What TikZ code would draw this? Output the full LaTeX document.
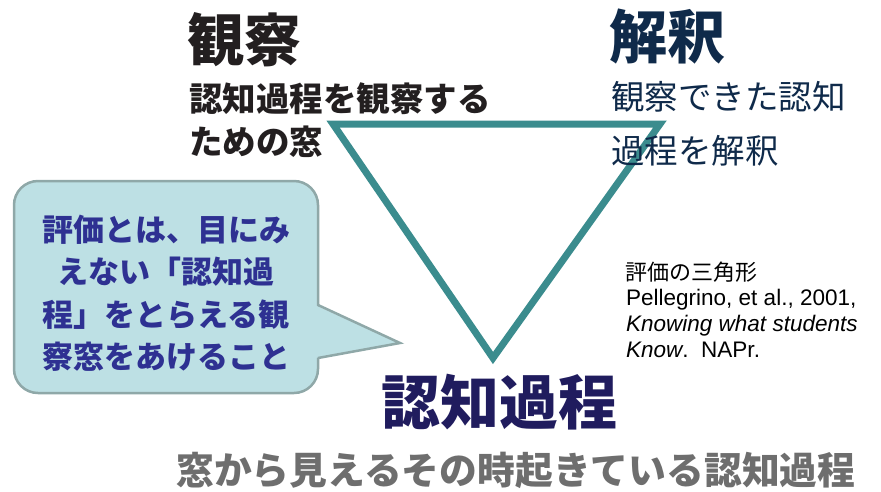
\documentclass[tikz,border=0pt]{standalone}
\usepackage{fontspec}
\setmainfont{Liberation Sans}
\newfontfamily\jp{Noto Sans CJK JP}
\definecolor{tealline}{RGB}{59,140,142}
\definecolor{bubblefill}{RGB}{189,224,228}
\definecolor{bubbleedge}{RGB}{143,168,168}
\definecolor{bubbletext}{RGB}{46,49,146}
\definecolor{obscol}{RGB}{35,31,32}
\definecolor{intcol}{RGB}{15,42,74}
\definecolor{cogcol}{RGB}{32,28,94}
\definecolor{graytext}{RGB}{110,110,110}
\tikzset{
  jtxt/.style={inner sep=0pt, anchor=west, font=\jp\bfseries},
  reftxt/.style={inner sep=0pt, anchor=base west, font=\fontsize{22.5}{26}\selectfont},
  tri/.style={draw=tealline, line width=7pt, line join=miter},
  bubble/.style={fill=bubblefill, draw=bubbleedge, line width=2.5pt}
}
\begin{document}
\begin{tikzpicture}[x=1pt,y=-1pt]
\useasboundingbox (0,0) rectangle (881,491);
% triangle
\coordinate (tl) at (333,124);
\coordinate (tr) at (660,124);
\coordinate (bt) at (493,358);
\draw[tri] (tl) -- (tr) -- (bt) -- cycle;
% speech bubble
\draw[bubble, rounded corners=24] (14,181) rectangle (318,393);
\coordinate (tailA) at (318,305);
\coordinate (tailB) at (318,358);
\coordinate (tip) at (400,343);
\fill[bubblefill] ([xshift=-3pt]tailA) -- (tip) -- ([xshift=-3pt]tailB) -- cycle;
\draw[bubbleedge, line width=2.5pt, line join=miter] (tailA) -- (tip) -- (tailB);
\node[inner sep=0pt, align=center, text=bubbletext, font=\jp\bfseries\fontsize{31}{42.5}\selectfont] (bt1) at (166,293)
 {評価とは、目にみ\\えない「認知過\\程」をとらえる観\\察窓をあけること};
% top-left: observation
\node[jtxt, text=obscol, font=\jp\bfseries\fontsize{57}{64}\selectfont] (obs) at (187,40) {観察};
\node[jtxt, text=obscol, font=\jp\bfseries\fontsize{33.5}{40}\selectfont] (obs1) at (189,99) {認知過程を観察する};
\node[jtxt, text=obscol, font=\jp\bfseries\fontsize{33.5}{40}\selectfont] (obs2) at (189,142) {ための窓};
% top-right: interpretation
\node[jtxt, text=intcol, font=\jp\bfseries\fontsize{58}{64}\selectfont] (int) at (609,37) {解釈};
\node[jtxt, text=intcol, font=\jp\fontsize{33.5}{40}\selectfont] (int1) at (611,97) {観察できた認知};
\node[jtxt, text=intcol, font=\jp\fontsize{33.5}{40}\selectfont] (int2) at (611,151) {過程を解釈};
% bottom: cognition
\node[jtxt, text=cogcol, font=\jp\bfseries\fontsize{59}{66}\selectfont] (cog) at (381,402) {認知過程};
\node[jtxt, text=graytext, font=\jp\bfseries\fontsize{37.8}{44}\selectfont] (cog1) at (176,470) {窓から見えるその時起きている認知過程};
% reference
\node[reftxt, font=\jp\fontsize{22}{26}\selectfont] (r0) at (625,280) {評価の三角形};
\node[reftxt] (r1) at (626,305) {Pellegrino, et al., 2001,};
\node[reftxt] (r2) at (626,331) {\itshape Knowing what students};
\node[reftxt] (r3) at (626,357) {\itshape Know\upshape.\ \ NAPr.};
\end{tikzpicture}
\end{document}
